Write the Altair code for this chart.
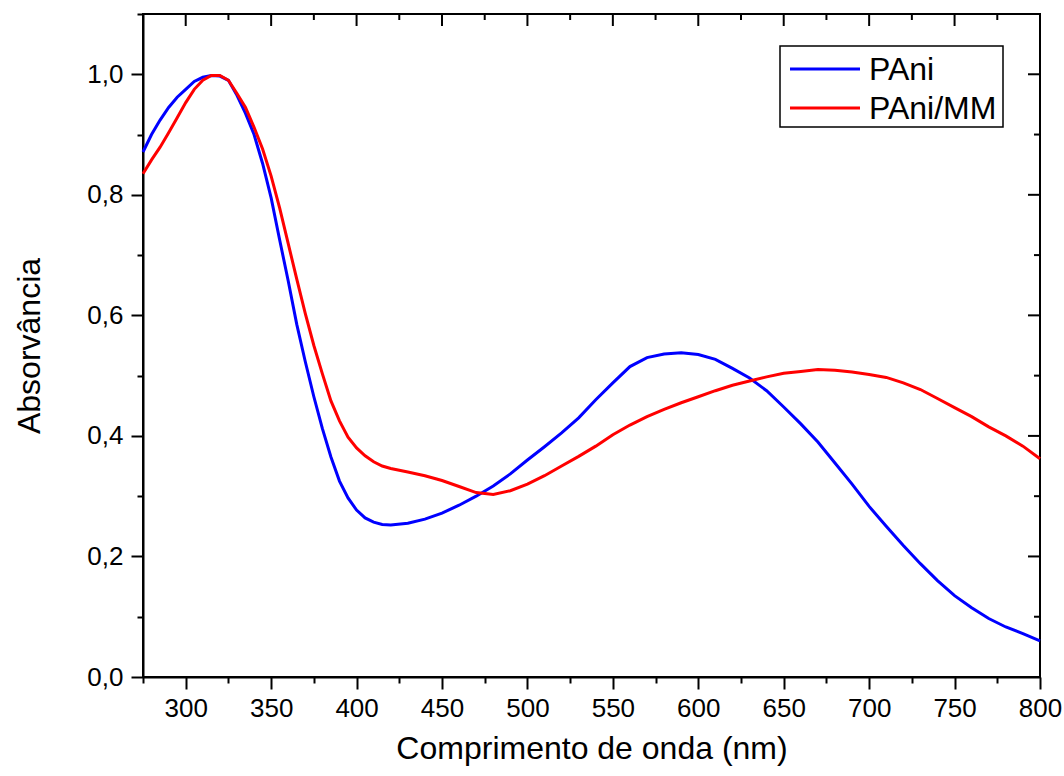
import altair as alt
import pandas as pd

wavelength = [275, 280, 285, 290, 295, 300, 305, 310, 315, 320, 325, 330, 335, 340, 345,
              350, 355, 360, 365, 370, 375, 380, 385, 390, 395, 400, 405, 410, 415, 420,
              430, 440, 450, 460, 470, 480, 490, 500, 510, 520, 530, 540, 550, 560, 570,
              580, 590, 600, 610, 620, 630, 640, 650, 660, 670, 680, 690, 700, 710, 720,
              730, 740, 750, 760, 770, 780, 790, 800]

pani = [0.871, 0.900, 0.924, 0.945, 0.962, 0.975, 0.988, 0.995, 0.998, 0.997, 0.990, 0.965,
        0.935, 0.900, 0.852, 0.795, 0.725, 0.657, 0.585, 0.523, 0.465, 0.412, 0.365, 0.325,
        0.297, 0.277, 0.264, 0.257, 0.253, 0.252, 0.255, 0.262, 0.272, 0.285, 0.300, 0.317,
        0.337, 0.360, 0.382, 0.405, 0.430, 0.460, 0.488, 0.515, 0.530, 0.536, 0.538, 0.535,
        0.527, 0.512, 0.496, 0.475, 0.448, 0.420, 0.390, 0.355, 0.320, 0.283, 0.250, 0.218,
        0.188, 0.160, 0.135, 0.115, 0.097, 0.083, 0.072, 0.060]

pani_mm = [0.835, 0.858, 0.879, 0.903, 0.928, 0.953, 0.975, 0.990, 0.998, 0.998, 0.990, 0.968,
           0.945, 0.912, 0.876, 0.831, 0.778, 0.719, 0.660, 0.603, 0.550, 0.503, 0.458, 0.425,
           0.398, 0.380, 0.367, 0.357, 0.350, 0.346, 0.340, 0.334, 0.326, 0.316, 0.306, 0.303,
           0.309, 0.320, 0.334, 0.350, 0.366, 0.383, 0.402, 0.418, 0.432, 0.444, 0.455, 0.465,
           0.475, 0.484, 0.491, 0.498, 0.504, 0.507, 0.510, 0.509, 0.506, 0.502, 0.497, 0.488,
           0.477, 0.462, 0.447, 0.432, 0.415, 0.400, 0.383, 0.362]

series_names = ["PAni", "PAni/MM"]
series_colors = ["#0000FF", "#FF0000"]

x_ticks = [275, 300, 325, 350, 375, 400, 425, 450, 475, 500, 525, 550, 575, 600, 625, 650,
           675, 700, 725, 750, 775, 800]
y_ticks = [0.0, 0.1, 0.2, 0.3, 0.4, 0.5, 0.6, 0.7, 0.8, 0.9, 1.0, 1.1]
x_major = [300, 350, 400, 450, 500, 550, 600, 650, 700, 750, 800]
x_minor = [275, 325, 375, 425, 475, 525, 575, 625, 675, 725, 775]
y_major = [0.0, 0.2, 0.4, 0.6, 0.8, 1.0]
y_minor = [0.1, 0.3, 0.5, 0.7, 0.9]

W, H = 897, 663
FONT = "Arial, Liberation Sans, sans-serif"

df = pd.DataFrame({
    "wl": wavelength * 2,
    "A": pani + pani_mm,
    "serie": [series_names[0]] * len(wavelength) + [series_names[1]] * len(wavelength),
    "ordem": [0] * len(wavelength) + [1] * len(wavelength),
})

xscale = alt.Scale(domain=[275, 800], nice=False, zero=False)
yscale = alt.Scale(domain=[0, 1.1], nice=False)

lines = alt.Chart(df).mark_line(strokeWidth=3).encode(
    x=alt.X("wl:Q", scale=xscale, title="Comprimento de onda (nm)",
            axis=alt.Axis(values=x_ticks,
                          labelExpr="datum.value % 50 === 0 ? datum.label : ''",
                          tickSize={"condition": {"test": "datum.value % 50 === 0", "value": 12}, "value": 6},
                          labelFlush=False, labelOverlap=False,
                          labelPadding=6, titlePadding=12, grid=False)),
    y=alt.Y("A:Q", scale=yscale, title="Absorvância",
            axis=alt.Axis(values=y_ticks,
                          labelExpr="round(datum.value*10) % 2 === 0 ? replace(format(datum.value, '.1f'), '.', ',') : ''",
                          tickSize={"condition": {"test": "round(datum.value*10) % 2 === 0", "value": 12}, "value": 6},
                          labelFlush=False, labelOverlap=False,
                          labelPadding=8, titlePadding=40, grid=False)),
    color=alt.Color("serie:N", scale=alt.Scale(domain=series_names, range=series_colors),
                    legend=None),
    order="ordem:Q",
    detail="serie:N",
)

top_major = alt.Chart(pd.DataFrame({"t": x_major})).mark_rule(color="black", strokeWidth=2).encode(
    x=alt.X("t:Q", scale=xscale), y=alt.value(0), y2=alt.value(12))
top_minor = alt.Chart(pd.DataFrame({"t": x_minor})).mark_rule(color="black", strokeWidth=2).encode(
    x=alt.X("t:Q", scale=xscale), y=alt.value(0), y2=alt.value(6))
right_major = alt.Chart(pd.DataFrame({"t": y_major})).mark_rule(color="black", strokeWidth=2).encode(
    y=alt.Y("t:Q", scale=yscale), x=alt.value(W - 12), x2=alt.value(W))
right_minor = alt.Chart(pd.DataFrame({"t": y_minor})).mark_rule(color="black", strokeWidth=2).encode(
    y=alt.Y("t:Q", scale=yscale), x=alt.value(W - 6), x2=alt.value(W))

# legend drawn by hand (box, line samples, labels)
LX, LY, LW, LH = 637, 32, 223, 81
ROW0, ROWSTEP = 55, 39
legend_box = alt.Chart(pd.DataFrame({"k": [0]})).mark_rect(
    fill="white", stroke="black", strokeWidth=1.5).encode(
    x=alt.value(LX), x2=alt.value(LX + LW), y=alt.value(LY), y2=alt.value(LY + LH))

legend_layers = [legend_box]
for i, (name, col) in enumerate(zip(series_names, series_colors)):
    d = pd.DataFrame({"nome": [name]})
    yy = ROW0 + ROWSTEP * i
    legend_layers.append(
        alt.Chart(d).mark_rule(color=col, strokeWidth=3).encode(
            x=alt.value(LX + 10), x2=alt.value(LX + 80), y=alt.value(yy)))
    legend_layers.append(
        alt.Chart(d).mark_text(align="left", baseline="middle", font=FONT, fontSize=32,
                               color="black").encode(
            text="nome:N", x=alt.value(LX + 89), y=alt.value(yy + 1)))

chart = alt.layer(lines, top_major, top_minor, right_major, right_minor, *legend_layers).properties(
    width=W, height=H,
    autosize=alt.AutoSizeParams(type="none"),
    padding={"left": 143, "top": 14, "right": 24, "bottom": 99},
    background="white",
).configure_view(stroke="black", strokeWidth=2).configure_axis(
    labelFont=FONT, labelFontSize=26, labelColor="black",
    titleFont=FONT, titleFontSize=32, titleFontWeight="normal", titleColor="black",
    domainColor="black", domainWidth=2, tickColor="black", tickWidth=2,
)

chart.save("out.html", embed_options={"renderer": "svg", "actions": False})
